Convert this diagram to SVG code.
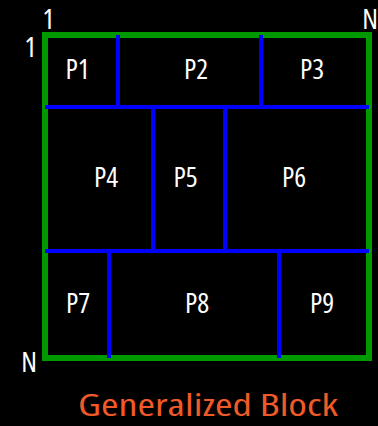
<svg xmlns="http://www.w3.org/2000/svg" width="378" height="426" viewBox="0 0 378 426">
<style>
text{font-family:"Open Sans","DejaVu Sans",sans-serif}
.lbl{font-size:28px;fill:#ffffff;text-anchor:middle;font-stretch:82%;font-weight:500}
.idx{font-size:28px;fill:#ffffff;text-anchor:middle;font-stretch:82%;font-weight:500}
.div{stroke:#0000ff;stroke-width:4;fill:none}
</style>
<rect x="0" y="0" width="378" height="426" fill="#000000"/>
<g id="block">
<rect x="45" y="35" width="324" height="323" fill="none" stroke="#009900" stroke-width="6"/>
</g>
<g id="dividers">
<line class="div" x1="45" y1="107" x2="369" y2="107"/>
<line class="div" x1="45" y1="251" x2="369" y2="251"/>
<line class="div" x1="118" y1="35" x2="118" y2="107"/>
<line class="div" x1="261" y1="35" x2="261" y2="107"/>
<line class="div" x1="153" y1="107" x2="153" y2="251"/>
<line class="div" x1="225" y1="107" x2="225" y2="251"/>
<line class="div" x1="109" y1="251" x2="109" y2="358"/>
<line class="div" x1="279" y1="251" x2="279" y2="358"/>
</g>
<g id="P1"><text class="lbl" x="77.5" y="79">P1</text></g>
<g id="P2"><text class="lbl" x="196" y="79">P2</text></g>
<g id="P3"><text class="lbl" x="312" y="79">P3</text></g>
<g id="P4"><text class="lbl" x="106" y="187">P4</text></g>
<g id="P5"><text class="lbl" x="185.5" y="187">P5</text></g>
<g id="P6"><text class="lbl" x="294" y="187">P6</text></g>
<g id="P7"><text class="lbl" x="78" y="313">P7</text></g>
<g id="P8"><text class="lbl" x="197" y="313">P8</text></g>
<g id="P9"><text class="lbl" x="322" y="313">P9</text></g>
<g id="axes">
<text class="idx" x="48.5" y="29">1</text>
<text class="idx" x="30.5" y="57">1</text>
<text class="idx" x="370" y="29">N</text>
<text class="idx" x="29" y="372">N</text>
</g>
<text x="208" y="416" font-size="31" font-weight="400" font-stretch="85%" fill="#f05a28" text-anchor="middle" textLength="260" lengthAdjust="spacingAndGlyphs">Generalized Block</text>
</svg>
